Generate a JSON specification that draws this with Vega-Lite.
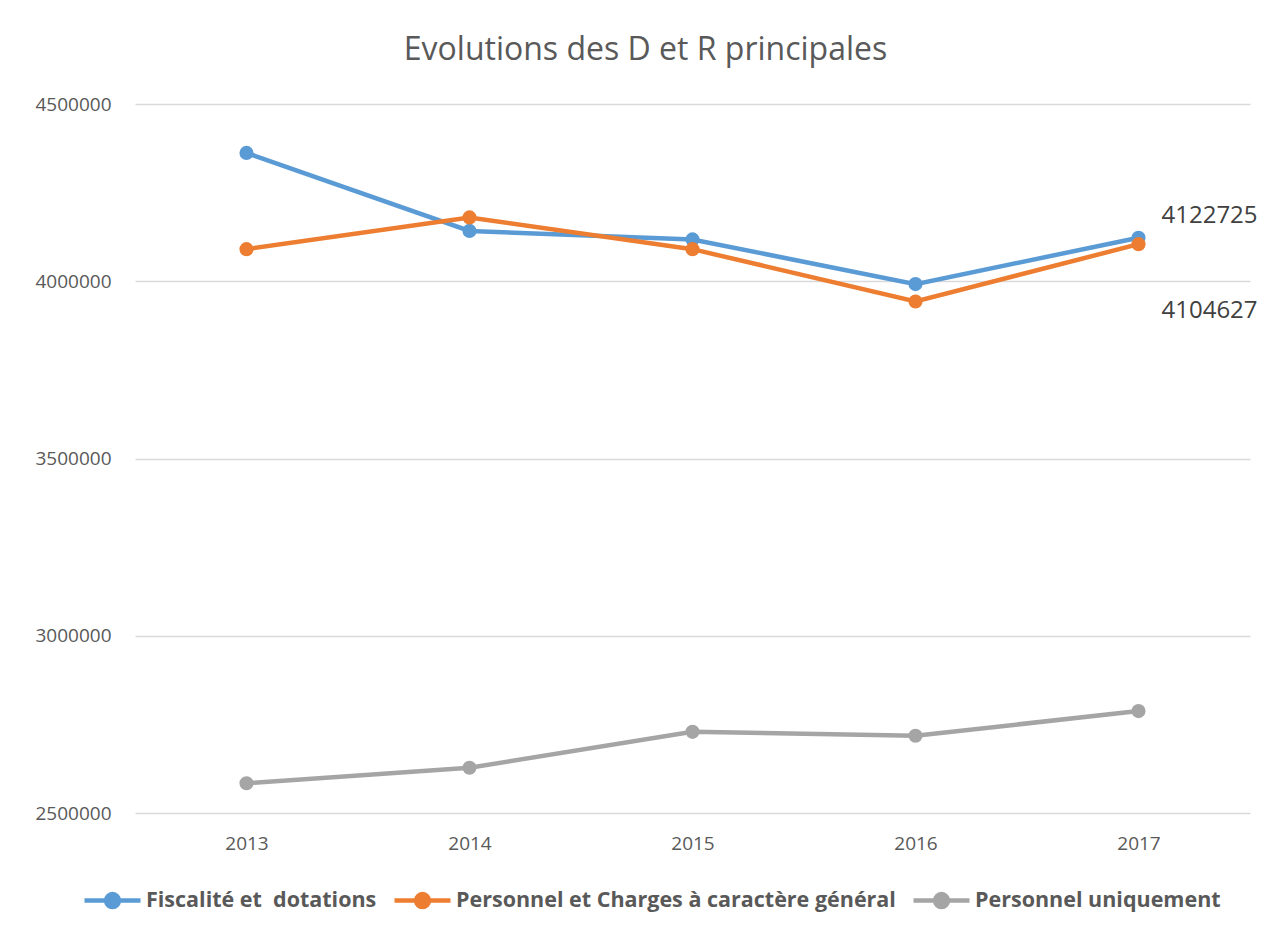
{
  "$schema": "https://vega.github.io/schema/vega-lite/v6.json",
  "width": 1115,
  "height": 709,
  "autosize": "none",
  "padding": {"left": 135, "top": 104, "right": 32, "bottom": 120},
  "background": "white",
  "title": {
    "text": "Evolutions des D et R principales",
    "font": "Open Sans",
    "fontSize": 32,
    "fontWeight": "normal",
    "color": "#595959",
    "anchor": "middle",
    "frame": "group",
    "dx": -47,
    "offset": 28
  },
  "config": {
    "view": {"stroke": null},
    "font": "Open Sans"
  },
  "data": {
    "values": [
      {"year": "2013", "series": "Fiscalité et\u00a0 dotations", "value": 4362000},
      {"year": "2014", "series": "Fiscalité et\u00a0 dotations", "value": 4142000},
      {"year": "2015", "series": "Fiscalité et\u00a0 dotations", "value": 4118000},
      {"year": "2016", "series": "Fiscalité et\u00a0 dotations", "value": 3992000},
      {"year": "2017", "series": "Fiscalité et\u00a0 dotations", "value": 4122725},
      {"year": "2013", "series": "Personnel et Charges à caractère général", "value": 4090500},
      {"year": "2014", "series": "Personnel et Charges à caractère général", "value": 4180000},
      {"year": "2015", "series": "Personnel et Charges à caractère général", "value": 4090500},
      {"year": "2016", "series": "Personnel et Charges à caractère général", "value": 3943000},
      {"year": "2017", "series": "Personnel et Charges à caractère général", "value": 4104627},
      {"year": "2013", "series": "Personnel uniquement", "value": 2584000},
      {"year": "2014", "series": "Personnel uniquement", "value": 2627500},
      {"year": "2015", "series": "Personnel uniquement", "value": 2729000},
      {"year": "2016", "series": "Personnel uniquement", "value": 2718000},
      {"year": "2017", "series": "Personnel uniquement", "value": 2787500}
    ]
  },
  "encoding": {
    "x": {
      "field": "year",
      "type": "ordinal",
      "scale": {"type": "point", "padding": 0.5},
      "axis": {
        "title": null,
        "labelAngle": 0,
        "labelFont": "Open Sans",
        "labelFontSize": 19,
        "labelColor": "#595959",
        "labelPadding": 21,
        "ticks": false,
        "domain": false,
        "grid": false
      }
    },
    "y": {
      "field": "value",
      "type": "quantitative",
      "scale": {"domain": [2500000, 4500000], "nice": false, "zero": false},
      "axis": {
        "title": null,
        "values": [2500000, 3000000, 3500000, 4000000, 4500000],
        "format": "d",
        "labelFont": "Open Sans",
        "labelFontSize": 19,
        "labelColor": "#595959",
        "labelPadding": 24,
        "ticks": false,
        "domain": false,
        "grid": true,
        "gridColor": "#D9D9D9",
        "gridWidth": 1.5
      }
    },
    "color": {
      "field": "series",
      "type": "nominal",
      "scale": {
        "domain": ["Fiscalité et\u00a0 dotations", "Personnel et Charges à caractère général", "Personnel uniquement"],
        "range": ["#5B9BD5", "#ED7D31", "#A5A5A5"]
      },
      "legend": {
        "orient": "none",
        "direction": "horizontal",
        "legendX": -53,
        "legendY": 766,
        "title": null,
        "symbolType": "M-1,0L1,0M-0.23,0A0.23,0.23,0,1,0,0.23,0A0.23,0.23,0,1,0,-0.23,0Z",
        "symbolSize": 3136,
        "symbolStrokeWidth": 4.5,
        "labelFont": "Open Sans",
        "labelFontWeight": "bold",
        "labelFontSize": 21.5,
        "labelColor": "#595959",
        "labelOffset": 3,
        "columnPadding": 8,
        "labelLimit": 700,
        "encode": {
          "symbols": {
            "update": {
              "fill": {"scale": "color", "field": "value"},
              "stroke": {"scale": "color", "field": "value"},
              "opacity": {"value": 1},
              "strokeWidth": {"value": 4.5}
            }
          }
        }
      }
    }
  },
  "layer": [
    {
      "mark": {
        "type": "line",
        "strokeWidth": 4.5,
        "point": {"filled": true, "size": 200, "opacity": 1}
      }
    },
    {
      "transform": [{"filter": "datum.year == '2017' && datum.series == 'Fiscalité et\u00a0 dotations'"}],
      "mark": {"type": "text", "align": "left", "baseline": "middle", "dx": 23, "dy": -22, "fontSize": 24, "font": "Open Sans", "color": "#404040"},
      "encoding": {
        "text": {"field": "value", "type": "quantitative", "format": "d"},
        "color": {"value": "#404040"}
      }
    },
    {
      "transform": [{"filter": "datum.year == '2017' && datum.series == 'Personnel et Charges à caractère général'"}],
      "mark": {"type": "text", "align": "left", "baseline": "middle", "dx": 23, "dy": 67, "fontSize": 24, "font": "Open Sans", "color": "#404040"},
      "encoding": {
        "text": {"field": "value", "type": "quantitative", "format": "d"},
        "color": {"value": "#404040"}
      }
    }
  ]
}
